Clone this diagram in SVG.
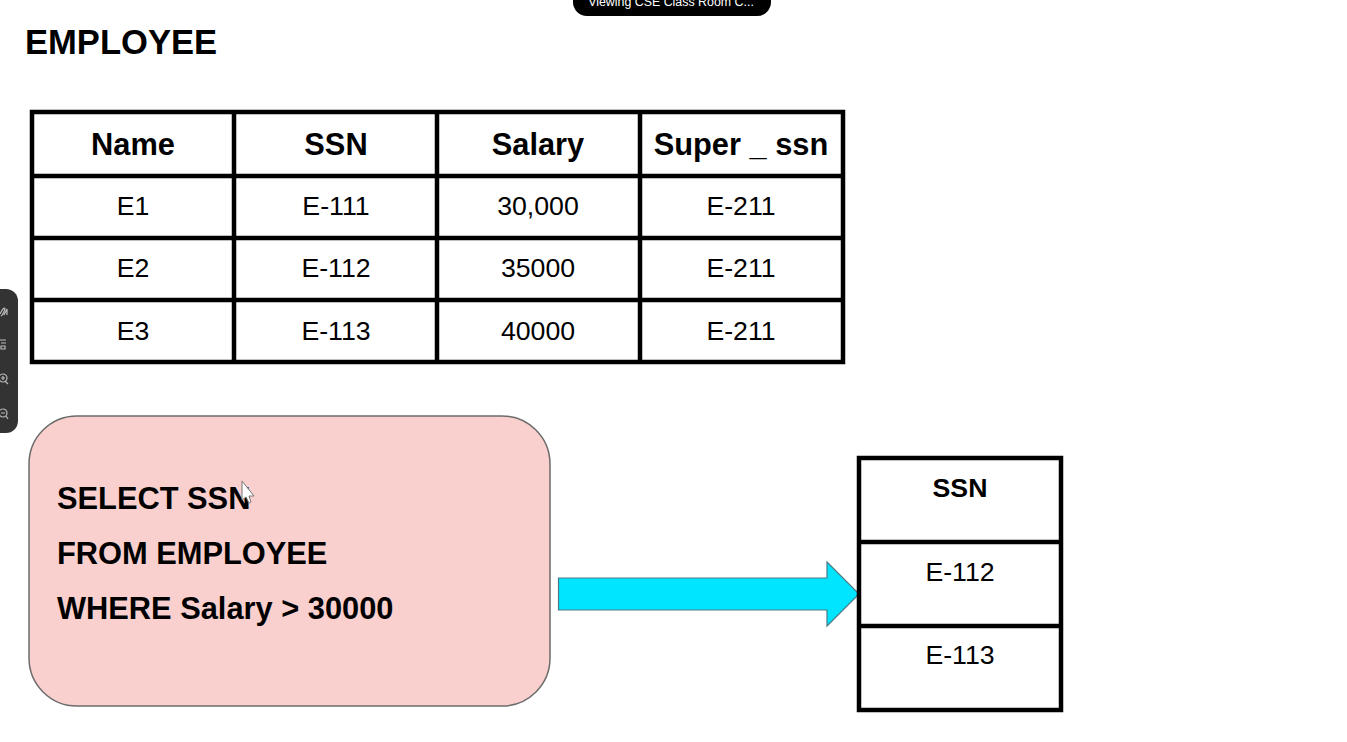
<svg xmlns="http://www.w3.org/2000/svg" width="1347" height="742" viewBox="0 0 1347 742">
<style>
text{font-family:"Liberation Sans",Arial,sans-serif;fill:#000;text-anchor:middle}
.h{font-size:30.800px;font-weight:bold}
.c{font-size:26.700px}
.q{font-size:30.800px;font-weight:bold;text-anchor:start}
.g{fill:none;stroke:#000;stroke-width:4.500}
.i{fill:none;stroke:#bbb;stroke-width:1.200}
</style>
<rect width="1347" height="742" fill="#fff"/>
<g id="overlay-pill"><rect x="573" y="-20" width="198" height="36" rx="14" fill="#000"/><text x="671" y="6" style="font-size:12.400px;fill:#fff">Viewing CSE Class Room C...</text></g>
<text id="title" x="25" y="53.500" style="font-size:34.600px;font-weight:bold;text-anchor:start">EMPLOYEE</text>
<g id="employee-table">
<path class="g" d="M32 112H843V362H32ZM32 176H843M32 238H843M32 300H843M234 112V362M437 112V362M640 112V362"/>
<text class="h" x="133" y="155">Name</text><text class="h" x="336" y="155">SSN</text><text class="h" x="538" y="155">Salary</text><text class="h" x="741" y="155">Super _ ssn</text>
<text class="c" x="133" y="215">E1</text><text class="c" x="336" y="215">E-111</text><text class="c" x="538" y="215">30,000</text><text class="c" x="741" y="215">E-211</text>
<text class="c" x="133" y="277">E2</text><text class="c" x="336" y="277">E-112</text><text class="c" x="538" y="277">35000</text><text class="c" x="741" y="277">E-211</text>
<text class="c" x="133" y="340">E3</text><text class="c" x="336" y="340">E-113</text><text class="c" x="538" y="340">40000</text><text class="c" x="741" y="340">E-211</text>
</g>
<g id="query-box">
<rect x="29" y="416" width="521" height="290" rx="48" fill="#f9d0cd" stroke="#6b6b6b" stroke-width="1.500"/>
<text class="q" x="57" y="509">SELECT SSN</text><text class="q" x="57" y="564">FROM EMPLOYEE</text><text class="q" x="57" y="619">WHERE Salary &gt; 30000</text>
</g>
<g id="connectors"><path d="M558.500 578H827V562L859 594L827 626V610H558.500Z" fill="#00e5ff" stroke="#4a7a85" stroke-width="1.200"/></g>
<g id="result-table">
<path class="g" d="M859 458H1061V710H859ZM859 542H1061M859 626H1061"/>
<text x="960" y="497" style="font-size:26.700px;font-weight:bold">SSN</text><text class="c" x="960" y="581">E-112</text><text class="c" x="960" y="664">E-113</text>
</g>
<g id="side-toolbar"><rect x="-20" y="289" width="38" height="144" rx="12" fill="#333"/>
<path class="i" d="M0 314Q4 306 5 309Q3 315 1 316M4 315L7 309V315M0 340H6M1 343H6M1 346H5V349H1ZM8 384L5 381"/><circle class="i" cx="3" cy="378" r="4"/><circle class="i" cx="3" cy="413" r="4"/><path class="i" d="M1 378H5M3 376V380M1 413H5M6 416L8 419"/></g>
<path id="cursor" d="M242 481V500L246 497L249 503L251 502L249 496L254 496Z" fill="#fff" stroke="#777" stroke-width="1"/>
</svg>
